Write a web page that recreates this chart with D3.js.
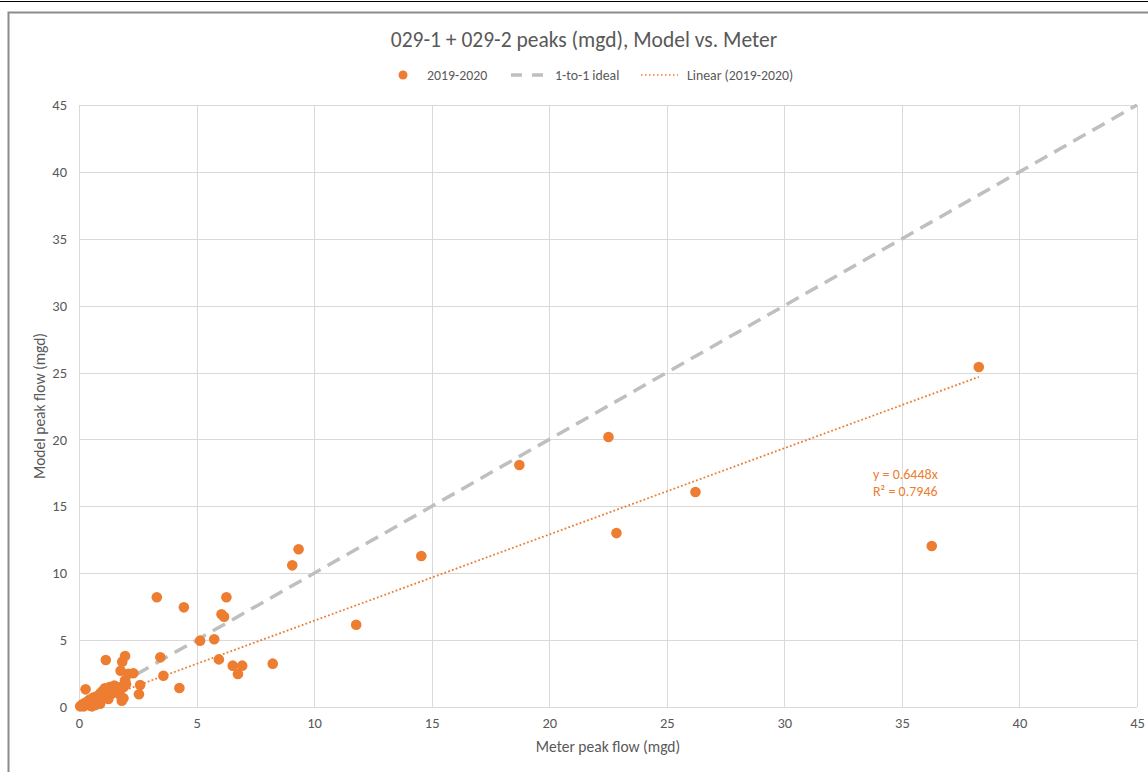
<!DOCTYPE html>
<head>
    <meta charset="utf-8">
    <script src="https://d3js.org/d3.v7.min.js"></script>
    <style>
      body { margin: 0; background: #fff; }
      text { font-family: Carlito, Lato, "Open Sans", sans-serif; fill: #595959; }
      .charttitle { font-size: 21.5px; }
      .ticklabel { font-size: 14.5px; }
      .axistitle { font-size: 15.5px; }
      .legendtext { font-size: 13.8px; }
    </style>
<body>
    <script>
        // data
        var meterFlow = [38.27, 36.27, 26.22, 22.86, 22.52, 18.73, 14.56, 11.79, 9.34, 9.07,
          8.24, 6.94, 6.54, 6.76, 6.27, 6.06, 6.17, 5.15, 5.75, 5.95,
          4.46, 4.27, 3.31, 3.46, 3.59,
          1.14, 1.96, 1.84, 1.77, 2.31, 2.10, 2.60, 2.55, 1.82, 1.89,
          0.28, 1.82, 1.96, 1.98,
          0.05, 0.10, 0.15, 0.20, 0.25, 0.30, 0.35, 0.40, 0.45, 0.50,
          0.55, 0.60, 0.65, 0.70, 0.75, 0.80, 0.85, 0.90, 0.95, 1.00,
          1.05, 1.10, 1.15, 1.20, 1.30, 1.35, 1.40, 1.50, 1.55, 1.60,
          1.70, 1.75, 1.90, 2.00, 0.90, 1.25, 0.55, 0.70]
        var modelFlow = [25.41, 12.03, 16.07, 13.00, 20.18, 18.09, 11.29, 6.15, 11.79, 10.59,
          3.24, 3.09, 3.09, 2.47, 8.20, 6.93, 6.75, 4.96, 5.06, 3.56,
          7.45, 1.42, 8.20, 3.71, 2.34,
          3.51, 3.81, 3.39, 2.71, 2.52, 2.48, 1.64, 0.95, 0.47, 0.65,
          1.32, 1.52, 2.00, 1.75,
          0.05, 0.10, 0.20, 0.05, 0.30, 0.15, 0.40, 0.20, 0.55, 0.10,
          0.35, 0.70, 0.30, 0.50, 0.80, 0.60, 0.30, 1.00, 0.75, 1.20,
          0.90, 1.40, 1.10, 0.80, 1.50, 1.20, 1.00, 1.60, 1.30, 1.50,
          1.20, 0.90, 1.50, 1.70, 0.25, 0.60, 0.05, 0.15]
        var axisTicks = [0, 5, 10, 15, 20, 25, 30, 35, 40, 45]
        var idealLine = [0, 45]
        var slope = 0.6448
        var rSquared = 0.7946
        var legendNames = ["2019-2020", "1-to-1 ideal", "Linear (2019-2020)"]

        var orange = "#ED7D31"
        var svg_w = 1148, svg_h = 772

        var svg = d3.select("body").append("svg")
          .attr("width", svg_w)
          .attr("height", svg_h)

        // page line and chart frame
        svg.append("line")
          .attr("x1", 0).attr("x2", svg_w).attr("y1", 1.5).attr("y2", 1.5)
          .attr("stroke", "#000").attr("stroke-width", 1)
        svg.append("rect")
          .attr("x", 8.5).attr("y", 12.5)
          .attr("width", svg_w + 20).attr("height", svg_h + 20)
          .attr("fill", "#fff")
          .attr("stroke", "#8c8c8c").attr("stroke-width", 2)

        var x = d3.scaleLinear().domain([0, 45]).range([79, 1137])
        var y = d3.scaleLinear().domain([0, 45]).range([707, 105])

        // gridlines
        var grid = svg.append("g")
        grid.selectAll(".vgrid").data(axisTicks).enter().append("line")
          .attr("x1", function(d){ return Math.round(x(d)) + 0.5 })
          .attr("x2", function(d){ return Math.round(x(d)) + 0.5 })
          .attr("y1", y(0)).attr("y2", y(45))
          .attr("stroke", "#d9d9d9")
        grid.selectAll(".hgrid").data(axisTicks).enter().append("line")
          .attr("y1", function(d){ return Math.round(y(d)) + 0.5 })
          .attr("y2", function(d){ return Math.round(y(d)) + 0.5 })
          .attr("x1", x(0)).attr("x2", x(45))
          .attr("stroke", "#d9d9d9")

        // axes (labels only)
        var xAxis = svg.append("g")
          .attr("transform", "translate(0," + (y(0) + 3) + ")")
          .call(d3.axisBottom(x).tickValues(axisTicks).tickSize(0).tickPadding(8))
        xAxis.select(".domain").remove()
        xAxis.selectAll("text").attr("class", "ticklabel").attr("fill", null)

        var yAxis = svg.append("g")
          .attr("transform", "translate(" + (x(0) - 4) + ",0)")
          .call(d3.axisLeft(y).tickValues(axisTicks).tickSize(0).tickPadding(8))
        yAxis.select(".domain").remove()
        yAxis.selectAll("text").attr("class", "ticklabel").attr("fill", null)

        // 1-to-1 ideal
        svg.append("line")
          .attr("x1", x(idealLine[0])).attr("y1", y(idealLine[0]))
          .attr("x2", x(idealLine[1])).attr("y2", y(idealLine[1]))
          .attr("stroke", "#bfbfbf").attr("stroke-width", 3.5)
          .attr("stroke-dasharray", "14,8")

        // points
        var pts = meterFlow.map(function(d, i){ return {m: d, v: modelFlow[i]} })
        svg.append("g").selectAll("circle").data(pts).enter().append("circle")
          .attr("cx", function(d){ return x(d.m) })
          .attr("cy", function(d){ return y(d.v) })
          .attr("r", 5.3)
          .attr("fill", orange)

        // linear trendline through origin
        var xmin = d3.min(meterFlow), xmax = d3.max(meterFlow)
        svg.append("line")
          .attr("x1", x(xmin)).attr("y1", y(slope * xmin))
          .attr("x2", x(xmax)).attr("y2", y(slope * xmax))
          .attr("stroke", orange).attr("stroke-width", 1.8)
          .attr("stroke-dasharray", "1.8,2.2")

        svg.append("text").attr("x", 873).attr("y", 479)
          .attr("font-size", "14px").style("fill", orange)
          .text("y = " + slope + "x")
        svg.append("text").attr("x", 873).attr("y", 496)
          .attr("font-size", "14px").style("fill", orange)
          .text("R² = " + rSquared)

        // title
        svg.append("text").attr("class", "charttitle")
          .attr("x", 584).attr("y", 47).attr("text-anchor", "middle")
          .text("029-1 + 029-2 peaks (mgd), Model vs. Meter")

        // axis titles
        svg.append("text").attr("class", "axistitle")
          .attr("x", x(22.5)).attr("y", 752).attr("text-anchor", "middle")
          .text("Meter peak flow (mgd)")
        svg.append("text").attr("class", "axistitle")
          .attr("transform", "translate(45," + y(22.5) + ") rotate(-90)")
          .attr("text-anchor", "middle")
          .text("Model peak flow (mgd)")

        // legend
        var lg = svg.append("g").attr("transform", "translate(0,75)")
        lg.append("circle").attr("cx", 403).attr("cy", 0).attr("r", 4.5).attr("fill", orange)
        lg.append("text").attr("class", "legendtext").attr("x", 427).attr("y", 5).text(legendNames[0])
        lg.append("line").attr("x1", 511).attr("x2", 543).attr("y1", 0).attr("y2", 0)
          .attr("stroke", "#bfbfbf").attr("stroke-width", 3.5).attr("stroke-dasharray", "11,10")
        lg.append("text").attr("class", "legendtext").attr("x", 555).attr("y", 5).text(legendNames[1])
        lg.append("line").attr("x1", 641).attr("x2", 678).attr("y1", 0).attr("y2", 0)
          .attr("stroke", orange).attr("stroke-width", 1.5).attr("stroke-dasharray", "1.5,2.5")
        lg.append("text").attr("class", "legendtext").attr("x", 687).attr("y", 5).text(legendNames[2])
    </script>
</body>
